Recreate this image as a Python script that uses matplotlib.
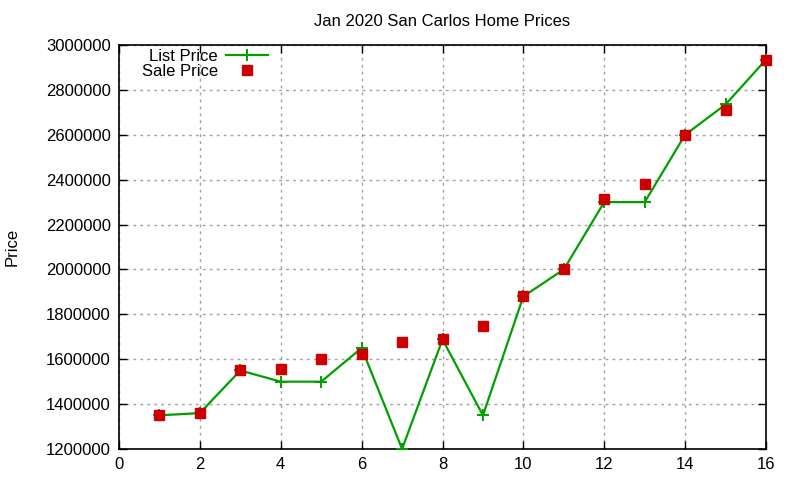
import matplotlib
matplotlib.use("Agg")
import matplotlib.pyplot as plt
from matplotlib.ticker import MultipleLocator, FuncFormatter

plt.rcParams['font.family'] = ['Liberation Sans', 'DejaVu Sans']

homes = list(range(1, 17))
list_price = [1350000, 1360000, 1550000, 1500000, 1500000, 1650000, 1200000, 1688000,
              1350000, 1880000, 2000000, 2300000, 2300000, 2600000, 2735000, 2935000]
sale_price = [1350000, 1360000, 1550000, 1555000, 1600000, 1625000, 1675000, 1690000,
              1750000, 1883000, 2003000, 2315000, 2380000, 2600000, 2710000, 2935000]

fig = plt.figure(figsize=(8, 4.8), dpi=100)
ax = fig.add_axes([119/800, 1-449/480, (766-119)/800, (449-45)/480])

ax.plot(homes, list_price, color='#00a000', lw=1.6, marker='+', ms=9, mew=1.4,
        label='List Price', zorder=3)
ax.plot(homes, sale_price, ls='none', color='#cc0000', marker='s', ms=6.5,
        label='Sale Price', zorder=4, clip_on=False)

ax.set_xlim(0, 16)
ax.set_ylim(1200000, 3000000)
ax.xaxis.set_major_locator(MultipleLocator(2))
ax.yaxis.set_major_locator(MultipleLocator(200000))
ax.yaxis.set_major_formatter(FuncFormatter(lambda v, p: f"{int(round(v))}"))
ax.tick_params(direction='in', top=True, right=True, length=6, width=1,
               labelsize=12, pad=6)
ax.grid(True, color='#a0a0a0', ls=(0, (2, 3)), lw=1)
for s in ax.spines.values():
    s.set_linewidth(1.2)

ax.set_title('Jan 2020 San Carlos Home Prices', fontsize=12, pad=14)
fig.text(12/800, 1-247/480, 'Price', rotation=90, ha='center', va='center', fontsize=12)

leg = ax.legend(loc='upper left', bbox_to_anchor=(0.017, 1.02), frameon=False,
                markerfirst=False, fontsize=12, handlelength=2.5, labelspacing=0.0,
                handletextpad=0.5, borderaxespad=0.3)
for t in leg.get_texts():
    t.set_ha('right')

fig.savefig('out.png', dpi=100)
